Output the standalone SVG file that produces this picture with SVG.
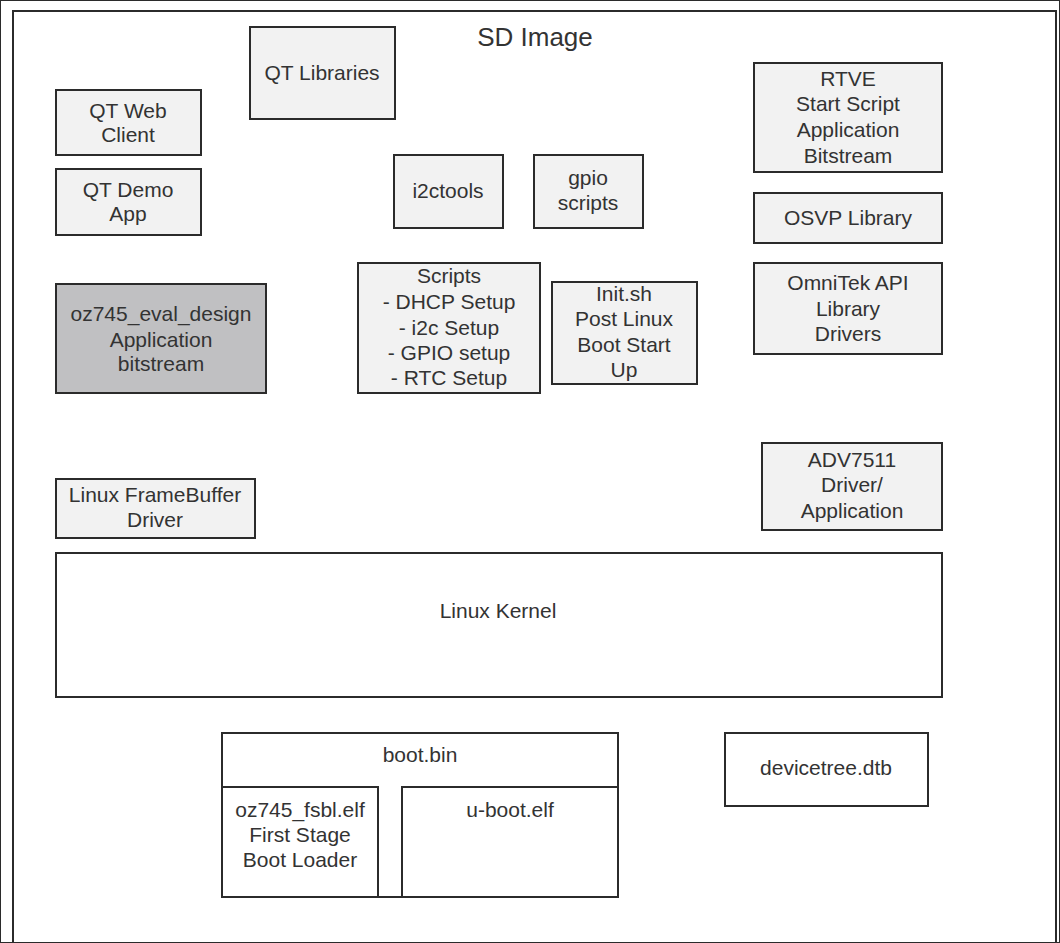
<svg xmlns="http://www.w3.org/2000/svg" width="1060" height="943" viewBox="0 0 1060 943">
<style>
rect{stroke:#2b2b2b;stroke-width:2}
.l{fill:#f2f2f2}
.w{fill:#ffffff}
.g{fill:#c0c0c2}
text{font-family:"Liberation Sans",Arial,sans-serif;font-size:21px;fill:#333333;text-anchor:middle}
</style>
<rect width="1060" height="943" fill="#ffffff" stroke="none"/>
<g id="sd-image">
<rect x="13" y="11" width="1043" height="960" fill="none"/>
<text x="535" y="46" style="font-size:26px">SD Image</text>
</g>
<g id="qt-libraries"><rect class="l" x="250" y="27" width="145" height="92"/><text x="322" y="80">QT Libraries</text></g>
<g id="qt-web-client"><rect class="l" x="56" y="90" width="145" height="65"/><text x="128" y="118">QT Web</text><text x="128" y="142">Client</text></g>
<g id="qt-demo-app"><rect class="l" x="56" y="169" width="145" height="66"/><text x="128" y="197">QT Demo</text><text x="128" y="221">App</text></g>
<g id="i2ctools"><rect class="l" x="394" y="155" width="109" height="73"/><text x="448" y="198">i2ctools</text></g>
<g id="gpio-scripts"><rect class="l" x="534" y="155" width="109" height="73"/><text x="588" y="185">gpio</text><text x="588" y="210">scripts</text></g>
<g id="rtve"><rect class="l" x="754" y="63" width="188" height="109"/><text x="848" y="86">RTVE</text><text x="848" y="111">Start Script</text><text x="848" y="137">Application</text><text x="848" y="163">Bitstream</text></g>
<g id="osvp"><rect class="l" x="754" y="193" width="188" height="50"/><text x="848" y="225">OSVP Library</text></g>
<g id="omnitek"><rect class="l" x="754" y="263" width="188" height="91"/><text x="848" y="290">OmniTek API</text><text x="848" y="316">Library</text><text x="848" y="341">Drivers</text></g>
<g id="oz745-eval"><rect class="g" x="56" y="284" width="210" height="109"/><text x="161" y="321">oz745_eval_design</text><text x="161" y="347">Application</text><text x="161" y="371">bitstream</text></g>
<g id="scripts"><rect class="l" x="358" y="263" width="182" height="130"/><text x="449" y="283">Scripts</text><text x="449" y="309">- DHCP Setup</text><text x="449" y="335">- i2c Setup</text><text x="449" y="360">- GPIO setup</text><text x="449" y="385">- RTC Setup</text></g>
<g id="init-sh"><rect class="l" x="552" y="282" width="145" height="102"/><text x="624" y="301">Init.sh</text><text x="624" y="326">Post Linux</text><text x="624" y="352">Boot Start</text><text x="624" y="377">Up</text></g>
<g id="framebuffer"><rect class="l" x="56" y="479" width="199" height="59"/><text x="155" y="502">Linux FrameBuffer</text><text x="155" y="527">Driver</text></g>
<g id="adv7511"><rect class="l" x="762" y="443" width="180" height="87"/><text x="852" y="467">ADV7511</text><text x="852" y="492">Driver/</text><text x="852" y="518">Application</text></g>
<g id="linux-kernel"><rect class="w" x="56" y="553" width="886" height="144"/><text x="498" y="618">Linux Kernel</text></g>
<g id="boot-bin"><rect class="w" x="222" y="733" width="396" height="164"/><text x="420" y="762">boot.bin</text></g>
<g id="fsbl"><rect class="w" x="222" y="787" width="156" height="110"/><text x="300" y="817">oz745_fsbl.elf</text><text x="300" y="842">First Stage</text><text x="300" y="867">Boot Loader</text></g>
<g id="u-boot"><rect class="w" x="402" y="787" width="216" height="110"/><text x="510" y="817">u-boot.elf</text></g>
<g id="devicetree"><rect class="w" x="725" y="733" width="203" height="73"/><text x="826" y="775">devicetree.dtb</text></g>
<g id="connectors"></g>
</svg>
